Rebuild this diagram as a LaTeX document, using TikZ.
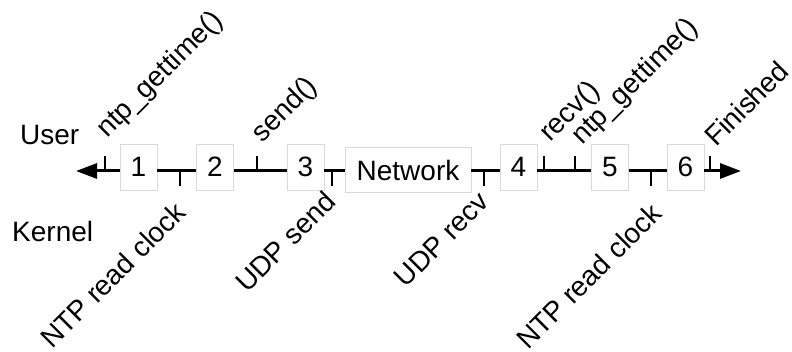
\documentclass[tikz,border=0pt]{standalone}
\usepackage{fontspec}
\setmainfont{Liberation Sans}
\usetikzlibrary{arrows.meta}

\begin{document}
\begin{tikzpicture}[
  x=1pt, y=-1pt,
  font=\fontsize{28}{32}\selectfont,
  box/.style={draw=black!15, fill=white, line width=0.8pt, minimum width=37pt, minimum height=46pt, inner sep=0pt},
  netbox/.style={box, minimum width=126pt, minimum height=45pt},
  axisline/.style={line width=3pt},
  arr/.style={axisline, -{Triangle[length=21pt, width=15pt]}},
  tickmark/.style={line width=2.6pt},
  uplabel/.style={rotate=45, anchor=base west, inner sep=0pt},
  downlabel/.style={rotate=45, anchor=north east, inner sep=0pt}
]
\useasboundingbox (0,0) rectangle (792,352);

\node[anchor=base west, inner sep=0pt] (user) at (20,145) {User};
\node[anchor=base west, inner sep=0pt] (kernel) at (12,242) {Kernel};

\coordinate (axis) at (0,171);
\coordinate (lefttip) at (76,171);
\coordinate (righttip) at (741,171);

\node[box] (b1) at (138.5,167) {1};
\node[box] (b2) at (215,167) {2};
\node[box] (b3) at (305.5,167) {3};
\node[netbox] (net) at (408,170) {Network};
\node[box] (b4) at (518.5,167) {4};
\node[box] (b5) at (610,167) {5};
\node[box] (b6) at (685.5,167) {6};

\draw[arr] (b1.west |- axis) -- (lefttip);
\draw[axisline] (b1.east |- axis) -- (b2.west |- axis);
\draw[axisline] (b2.east |- axis) -- (b3.west |- axis);
\draw[axisline] (b3.east |- axis) -- (net.west |- axis);
\draw[axisline] (net.east |- axis) -- (b4.west |- axis);
\draw[axisline] (b4.east |- axis) -- (b5.west |- axis);
\draw[axisline] (b5.east |- axis) -- (b6.west |- axis);
\draw[arr] (b6.east |- axis) -- (righttip);

% user side ticks
\coordinate (tgettime1) at (105,171);
\coordinate (tsend) at (257,171);
\coordinate (trecv) at (544,171);
\coordinate (tgettime2) at (575,171);
\coordinate (tfinished) at (710,171);
\foreach \t in {tgettime1,tsend,trecv,tgettime2,tfinished}
  \draw[tickmark] (\t) -- ++(0,-15);

% kernel side ticks
\coordinate (tread1) at (180,171);
\coordinate (tudpsend) at (332,171);
\coordinate (tudprecv) at (484,171);
\coordinate (tread2) at (651,171);
\foreach \t in {tread1,tudpsend,tudprecv,tread2}
  \draw[tickmark] (\t) -- ++(0,15);

\node[uplabel] (lgettime1) at (107,139) {ntp\_gettime()};
\node[uplabel] (lsend) at (262,144) {send()};
\node[uplabel] (lrecv) at (550,143) {recv()};
\node[uplabel] (lgettime2) at (582,146) {ntp\_gettime()};
\node[uplabel] (lfinished) at (716,148) {Finished};

\node[downlabel] (lread1) at (173,200) {NTP read clock};
\node[downlabel] (ludpsend) at (323,189) {UDP send};
\node[downlabel] (ludprecv) at (477,190) {UDP recv};
\node[downlabel] (lread2) at (649,201) {NTP read clock};
\end{tikzpicture}
\end{document}
